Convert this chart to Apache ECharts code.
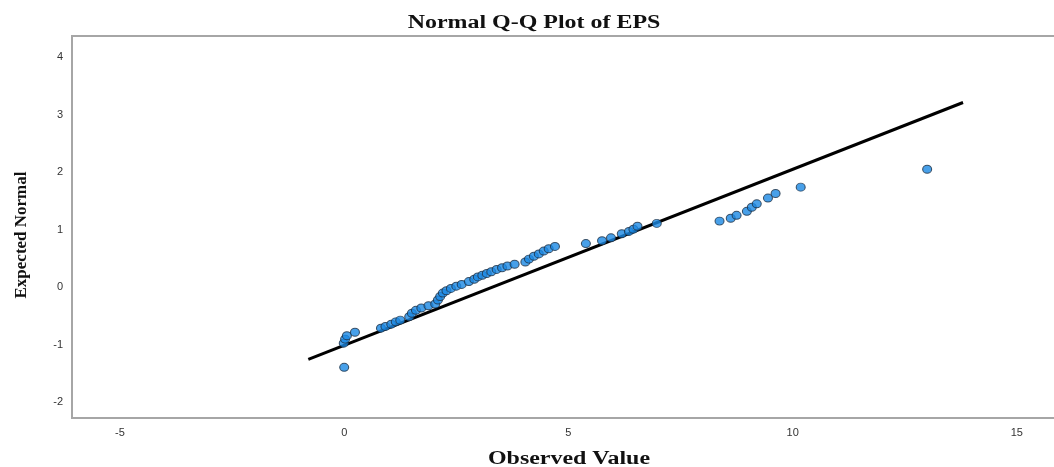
<!DOCTYPE html>
<html>
<head>
<meta charset="utf-8">
<script src="https://cdn.jsdelivr.net/npm/echarts@6/dist/echarts.min.js"></script>
<style>
html,body{margin:0;padding:0;background:#fff;}
#chart{width:1054px;height:467px;}
</style>
</head>
<body>
<div id="chart"></div>
<script>
const observedValues = [0.00, -0.01, 0.02, 0.06, 0.24, 0.82, 0.92, 1.05, 1.15, 1.25, 1.45, 1.51, 1.60, 1.72, 1.88, 2.03, 2.09, 2.14, 2.20, 2.28, 2.38, 2.50, 2.62, 2.78, 2.90, 2.98, 3.08, 3.18, 3.28, 3.40, 3.52, 3.64, 3.80, 4.04, 4.12, 4.23, 4.34, 4.45, 4.56, 4.70, 5.39, 5.75, 5.95, 6.19, 6.35, 6.45, 6.54, 6.97, 8.37, 8.62, 8.75, 8.98, 9.09, 9.20, 9.45, 9.62, 10.18, 13.00];
const expectedNormal = [-1.39, -0.97, -0.90, -0.84, -0.78, -0.71, -0.68, -0.64, -0.60, -0.57, -0.51, -0.45, -0.40, -0.36, -0.32, -0.29, -0.22, -0.16, -0.10, -0.06, -0.02, 0.02, 0.05, 0.10, 0.14, 0.18, 0.21, 0.24, 0.27, 0.31, 0.34, 0.37, 0.40, 0.44, 0.49, 0.54, 0.58, 0.63, 0.67, 0.71, 0.76, 0.81, 0.86, 0.93, 0.97, 1.01, 1.06, 1.11, 1.15, 1.20, 1.25, 1.32, 1.39, 1.45, 1.55, 1.63, 1.74, 2.05];
const refLineObserved = [-0.8, 13.8];
const refLineExpected = [-1.25, 3.21];
const xTickValues = [-5, 0, 5, 10, 15];
const yTickValues = [-2, -1, 0, 1, 2, 3, 4];

const points = observedValues.map((v, i) => [v, expectedNormal[i]]);
const refLine = refLineObserved.map((v, i) => [v, refLineExpected[i]]);

const chart = echarts.init(document.getElementById('chart'), null, {renderer: 'canvas'});
chart.setOption({
  animation: false,
  backgroundColor: '#ffffff',
  grid: {
    left: 72, top: 36, width: 1000, height: 382,
    outerBoundsMode: 'none', containLabel: false,
    show: true, borderColor: '#a6a6a6', borderWidth: 2, backgroundColor: 'transparent'
  },
  xAxis: {
    type: 'value', min: -6.07, max: 16.23,
    axisLine: {show: false}, axisTick: {show: false}, splitLine: {show: false},
    axisLabel: {customValues: xTickValues, color: '#333', fontFamily: 'Liberation Sans', fontSize: 11, margin: 9}
  },
  yAxis: {
    type: 'value', min: -2.27, max: 4.365,
    axisLine: {show: false}, axisTick: {show: false}, splitLine: {show: false},
    axisLabel: {customValues: yTickValues, color: '#333', fontFamily: 'Liberation Sans', fontSize: 11, margin: 9}
  },
  graphic: [
    {type: 'text', x: 534, y: 23, scaleX: 1.33, style: {text: 'Normal Q-Q Plot of EPS', x: 0, y: 0, textAlign: 'center', textVerticalAlign: 'middle', fontFamily: 'Liberation Serif', fontWeight: 'bold', fontSize: 18, fill: '#111'}},
    {type: 'text', x: 569, y: 459, scaleX: 1.33, style: {text: 'Observed Value', x: 0, y: 0, textAlign: 'center', textVerticalAlign: 'middle', fontFamily: 'Liberation Serif', fontWeight: 'bold', fontSize: 18, fill: '#111'}},
    {type: 'text', rotation: Math.PI / 2, x: 22, y: 235, style: {text: 'Expected Normal', x: 0, y: 0, textAlign: 'center', textVerticalAlign: 'middle', fontFamily: 'Liberation Serif', fontWeight: 'bold', fontSize: 17, fill: '#111'}}
  ],
  series: [
    {
      type: 'line', data: refLine, showSymbol: false, symbol: 'none',
      lineStyle: {color: '#000', width: 3}, z: 2
    },
    {
      type: 'scatter', data: points, symbol: 'circle', symbolSize: [9, 8],
      itemStyle: {color: '#1a88e3', borderColor: '#1b2f45', borderWidth: 1}, z: 3
    }
  ]
});
</script>
</body>
</html>
